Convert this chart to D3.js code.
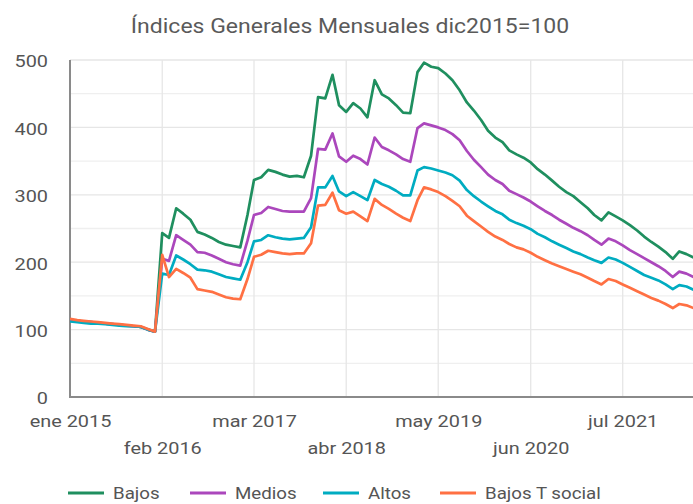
<!DOCTYPE html>
<html>
<head>
<meta charset="utf-8">
<script src="https://cdn.jsdelivr.net/npm/d3@7"></script>
<style>
  html, body { margin: 0; padding: 0; background: #fff; }
  svg { display: block; font-family: Roboto, "Noto Sans", sans-serif; }
</style>
</head>
<body>
<svg id="chart" width="693" height="504"></svg>
<script>
// ---------------- DATA ----------------
const title = "Índices Generales Mensuales dic2015=100";
const seriesNames = ["Bajos", "Medios", "Altos", "Bajos T social"];
const seriesColors = ["#1f8f5f", "#ab47bc", "#00acc1", "#ff7043"];
const startYear = 2015, startMonth = 0; // ene 2015, monthly points

const bajos = [114,113,112,111,110,109,108,107,106,105,104,100,97,
  243,236,280,272,263,245,241,236,230,226,224,222,
  270,322,326,337,334,330,327,328,326,358,445,443,478,433,423,436,428,415,470,449,443,433,422,421,
  482,496,490,488,480,470,455,437,425,411,395,385,378,366,360,355,348,338,330,321,312,304,298,289,280,270,262,
  274,268,262,255,247,238,230,223,215,205,216,212,207];
const medios = [114,113,112,111,110,109,108,107,106,105,104,100,97,
  205,202,240,233,226,215,214,210,205,200,197,195,
  232,270,273,282,279,276,275,275,275,295,368,367,391,357,349,358,353,345,385,371,366,360,353,349,
  399,406,403,400,396,390,381,365,352,341,330,322,316,306,301,296,290,283,276,270,263,257,251,246,240,233,226,
  235,231,225,218,212,206,200,194,187,178,186,183,178];
const altos = [112,111,110,109,109,108,107,106,105,105,104,100,97,
  183,181,210,204,197,189,188,186,182,178,176,174,
  200,231,233,240,237,235,234,235,236,252,311,311,328,305,298,304,298,292,322,316,312,306,299,299,
  336,341,339,336,333,329,321,307,298,290,283,276,271,263,258,254,249,242,237,231,226,221,216,212,207,203,199,
  207,204,199,193,187,181,177,173,167,160,166,164,159];
const bajosTSocial = [116,114,113,112,111,110,109,108,107,106,105,101,97,
  211,178,190,184,177,160,158,156,152,148,146,145,
  175,208,211,217,215,213,212,213,213,228,284,285,303,277,272,275,268,261,294,285,279,272,266,261,
  292,311,308,304,298,291,283,269,261,253,245,238,233,227,222,219,214,208,203,198,194,190,186,182,177,172,167,
  175,172,167,162,157,152,147,143,138,132,138,136,132];

const yTicks = [0, 100, 200, 300, 400, 500];
const yGrid = [0, 50, 100, 150, 200, 250, 300, 350, 400, 450, 500];
const xTickDates = ["2015-01","2016-02","2017-03","2018-04","2019-05","2020-06","2021-07"];
const xTickLabels = ["ene 2015","feb 2016","mar 2017","abr 2018","may 2019","jun 2020","jul 2021"];
const xDomainEnd = "2022-05";

// ---------------- BUILD ----------------
(function () {
const parseMonth = d3.timeParse("%Y-%m");
const allSeries = [bajos, medios, altos, bajosTSocial].map((vals, i) => ({
  name: seriesNames[i],
  color: seriesColors[i],
  points: vals.map((v, m) => ({ date: new Date(startYear, startMonth + m, 1), value: v }))
}));

const svg = d3.select("#chart");
const pLeft = 70, pRight = 693.5, pTop = 60, pBottom = 397;
const SX = 1.17; // horizontal stretch of the reference's text

const x = d3.scaleTime()
  .domain([parseMonth(xTickDates[0]), parseMonth(xDomainEnd)])
  .range([pLeft, pRight]);
const y = d3.scaleLinear().domain([0, 500]).range([pBottom, pTop]);

// gridlines
svg.append("g").selectAll("line").data(yGrid).join("line")
  .attr("x1", pLeft).attr("x2", 693)
  .attr("y1", d => y(d)).attr("y2", d => y(d))
  .attr("stroke", d => d % 100 === 0 ? "#e6e6e6" : "#efefef")
  .attr("stroke-width", 1.3);
svg.append("g").selectAll("line").data(xTickDates.slice(1)).join("line")
  .attr("x1", d => x(parseMonth(d))).attr("x2", d => x(parseMonth(d)))
  .attr("y1", pTop).attr("y2", pBottom)
  .attr("stroke", "#e6e6e6").attr("stroke-width", 1.3);

// title
svg.append("g").attr("transform", `translate(350,33) scale(1.15,1)`)
  .append("text").attr("text-anchor", "middle")
  .attr("font-size", 20).attr("fill", "#5a5a5a").text(title);

// y axis
const yAxis = svg.append("g").attr("transform", `translate(${pLeft},0)`)
  .call(d3.axisLeft(y).tickValues(yTicks).tickSize(0).tickFormat(d3.format("d")));
yAxis.select(".domain").remove();
yAxis.selectAll("text")
  .attr("x", 0).attr("dy", "0.35em")
  .attr("text-anchor", "end")
  .attr("transform", `translate(-22,1) scale(${SX},1)`)
  .attr("font-size", 17).attr("font-family", "Roboto").attr("fill", "#555");

// x axis
const xAxis = svg.append("g").attr("transform", `translate(0,${pBottom})`)
  .call(d3.axisBottom(x).tickValues(xTickDates.map(parseMonth)).tickSize(0)
    .tickFormat((d, i) => xTickLabels[i]));
xAxis.select(".domain").remove();
xAxis.selectAll("text")
  .attr("y", 0).attr("dy", 0)
  .attr("text-anchor", "middle")
  .attr("transform", (d, i) => `translate(0,${i % 2 === 0 ? 30 : 57}) scale(${SX},1)`)
  .attr("font-size", 17).attr("font-family", "Roboto").attr("fill", "#555");

// axis lines
svg.append("line").attr("x1", pLeft).attr("x2", pLeft).attr("y1", pTop).attr("y2", pBottom + 1)
  .attr("stroke", "#8a8a8a").attr("stroke-width", 2);
svg.append("line").attr("x1", pLeft).attr("x2", 693).attr("y1", pBottom).attr("y2", pBottom)
  .attr("stroke", "#8a8a8a").attr("stroke-width", 2);

// lines
svg.append("clipPath").attr("id", "clip").append("rect")
  .attr("x", pLeft).attr("y", 0).attr("width", 693 - pLeft).attr("height", pBottom + 5);
const line = d3.line().x(d => x(d.date)).y(d => y(d.value));
svg.append("g").attr("clip-path", "url(#clip)")
  .selectAll("path").data(allSeries).join("path")
  .attr("d", d => line(d.points))
  .attr("fill", "none").attr("stroke", d => d.color)
  .attr("stroke-width", 2.7).attr("stroke-linejoin", "round");

// legend
const legendX = [68, 190, 323, 440];
const lg = svg.append("g").selectAll("g").data(allSeries).join("g")
  .attr("transform", (d, i) => `translate(${legendX[i]},493)`);
lg.append("line").attr("x1", 0).attr("x2", 36).attr("y1", 0).attr("y2", 0)
  .attr("stroke", d => d.color).attr("stroke-width", 3);
lg.append("g").attr("transform", `translate(45,6) scale(${SX},1)`)
  .append("text").attr("font-size", 16).attr("fill", "#555").text(d => d.name);
})();
</script>
</body>
</html>
